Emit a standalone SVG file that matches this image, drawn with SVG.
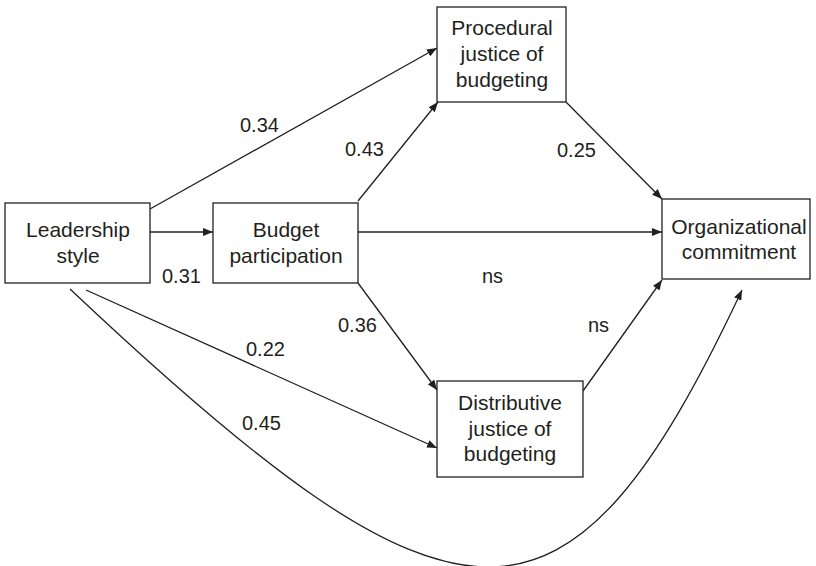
<svg xmlns="http://www.w3.org/2000/svg" width="816" height="566" viewBox="0 0 816 566">
<defs>
<marker id="ah" viewBox="0 0 10 8" refX="10" refY="4" markerWidth="10" markerHeight="8" markerUnits="userSpaceOnUse" orient="auto">
<path d="M0,0 L10,4 L0,8 Z" fill="#231f20"/>
</marker>
<style>
.box{fill:#fff;stroke:#231f20;stroke-width:1.3}
.t{font-family:"Liberation Sans",Arial,sans-serif;font-size:21px;fill:#231f20;text-anchor:middle}
.l{font-family:"Liberation Sans",Arial,sans-serif;font-size:20px;fill:#231f20}
.c{fill:none;stroke:#231f20;stroke-width:1.3;marker-end:url(#ah)}
</style>
</defs>
<rect width="816" height="566" fill="#fff"/>
<g id="connectors">
<path class="c" d="M150,209 L437,48"/>
<path class="c" d="M150,232 L213,232"/>
<path class="c" d="M358,201 L438,102"/>
<path class="c" d="M358,232 L662,232"/>
<path class="c" d="M566,102 L662,199"/>
<path class="c" d="M358,283 L437,390"/>
<path class="c" d="M583,391 L662,280"/>
<path class="c" d="M86,290 L437,448"/>
<path class="c" d="M70,289 C462,659 568,660 742,290"/>
</g>
<g id="leadership">
<rect class="box" x="5" y="203" width="145" height="80"/>
<text class="t" x="78" y="237">Leadership</text>
<text class="t" x="78" y="263">style</text>
</g>
<g id="budget">
<rect class="box" x="213" y="203" width="145" height="80"/>
<text class="t" x="286" y="237">Budget</text>
<text class="t" x="286" y="263">participation</text>
</g>
<g id="procedural">
<rect class="box" x="437" y="7" width="129" height="95"/>
<text class="t" x="502" y="35">Procedural</text>
<text class="t" x="502" y="61">justice of</text>
<text class="t" x="502" y="87">budgeting</text>
</g>
<g id="organizational">
<rect class="box" x="662" y="199" width="148" height="80"/>
<text class="t" x="739" y="234">Organizational</text>
<text class="t" x="739" y="259">commitment</text>
</g>
<g id="distributive">
<rect class="box" x="437" y="381" width="146" height="96"/>
<text class="t" x="510" y="410">Distributive</text>
<text class="t" x="510" y="436">justice of</text>
<text class="t" x="510" y="461">budgeting</text>
</g>
<g id="labels">
<text class="l" x="240" y="132">0.34</text>
<text class="l" x="345" y="156">0.43</text>
<text class="l" x="557" y="157">0.25</text>
<text class="l" x="162" y="283">0.31</text>
<text class="l" x="482" y="283">ns</text>
<text class="l" x="338" y="332">0.36</text>
<text class="l" x="588" y="332">ns</text>
<text class="l" x="246" y="356">0.22</text>
<text class="l" x="242" y="430">0.45</text>
</g>
</svg>
